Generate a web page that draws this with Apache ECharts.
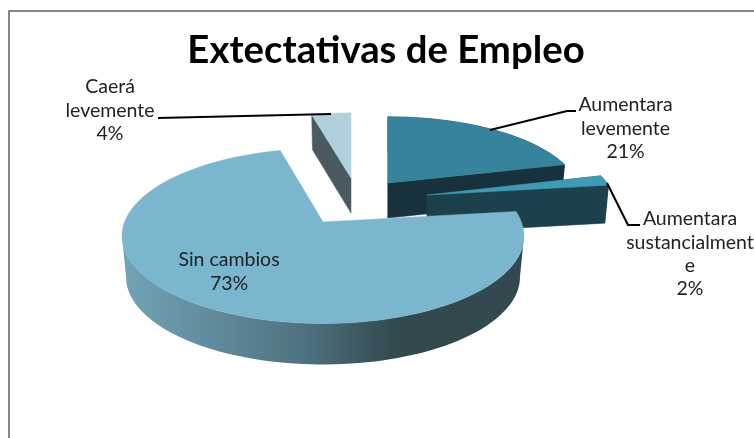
<!DOCTYPE html>
<html><head><meta charset="utf-8">
<style>html,body{margin:0;padding:0;background:#fff}#c{width:754px;height:438px}</style>
<script src="https://cdn.jsdelivr.net/npm/echarts@6/dist/echarts.min.js"></script>
</head><body><div id="c"></div>
<script>
const categories = ['Aumentara levemente', 'Aumentara sustancialmente', 'Sin cambios', 'Caerá levemente'];
const labelLines = [['Aumentara','levemente'], ['Aumentara','sustancialment','e'], ['Sin cambios'], ['Caerá','levemente']];
const shares = [21, 2, 73, 4];
const titleText = 'Extectativas de Empleo';

// layout of each exploded wedge
const apex = [[388,183],[427,195],[323,222],[351,178]];
const scaleX = [0.955,0.94,1,0.92];
const scaleY = [0.9,0.94,1,0.885];
const depth = [35,38,41,35];
const topColor = ['#37829C','#3F9BB5','#7AB7CE','#B1D0DD'];
const wallColor = ['#17323D','#1D414C',null,'#4B5A60'];
const labelPos = [[625.5,105],[690,219],[229,260],[110,87]];
const leaders = [[[490,130],[567,111],[576,111]],[[607,183],[628,225],[640,225]],null,[[331,114],[158,118]]];

const RX = 201, RY = 87.5, K = -0.16, SHRINK = 0.98;
const FONT = 'Lato, sans-serif';

function pt(i, deg, bottom) {
  const a = deg * Math.PI / 180;
  const y0 = -Math.cos(a), den = 1 + K * y0;
  const u = Math.sin(a) * Math.sqrt(1 - K * K) / den;
  const v = (y0 + K) / den - K;
  const f = bottom ? SHRINK : 1;
  return [apex[i][0] + scaleX[i] * RX * u * f, apex[i][1] + scaleY[i] * RY * v + (bottom ? depth[i] : 0)];
}
function arc(i, a0, a1, bottom) {
  const out = [], n = Math.max(2, Math.ceil(Math.abs(a1 - a0) / 2));
  for (let j = 0; j <= n; j++) out.push(pt(i, a0 + (a1 - a0) * j / n, bottom));
  return out;
}
const total = shares.reduce((a, b) => a + b, 0);

function renderItem(params) {
  const i = params.dataIndex;
  let start = 0;
  for (let j = 0; j < i; j++) start += shares[j];
  const a0 = start / total * 360, a1 = (start + shares[i]) / total * 360;
  const kids = [];
  const apexPt = apex[i], apexLow = [apexPt[0], apexPt[1] + depth[i]];
  const poly = (points, fill) => ({type:'polygon', shape:{points}, style:{fill, stroke:fill, lineWidth:0.5}, silent:true});

  if (i === 2) {
    // rim of the large wedge between the points where the outline turns
    const turn = Math.acos(K) * 180 / Math.PI;
    const from = Math.max(a0, turn), to = 360 - turn;
    const w = poly(arc(i, from, to, false).concat(arc(i, from, to, true).reverse()), {
      type:'linear', global:true, x:122, y:0, x2:525, y2:0, colorStops:[
        {offset:0, color:'#72A4B7'}, {offset:0.45, color:'#4F7280'}, {offset:0.68, color:'#33494F'}, {offset:1, color:'#33494F'}]});
    w.style.stroke = null;
    kids.push(w);
  } else {
    const p = pt(i, a0, false), q = pt(i, a0, true);
    kids.push(poly([apexPt, p, q, apexLow], wallColor[i]));
    if (i !== 3) {
      const p1 = pt(i, a1, false), q1 = pt(i, a1, true);
      kids.push(poly([apexPt, p1, q1, apexLow], wallColor[i]));
      kids.push(poly(arc(i, a0, a1, false).concat(arc(i, a0, a1, true).reverse()), wallColor[i]));
    }
  }
  kids.push(poly([apexPt].concat(arc(i, a0, a1, false)), topColor[i]));
  return {type:'group', children:kids};
}

function renderLabel(params) {
  const i = params.dataIndex;
  const kids = [];
  if (leaders[i]) kids.push({type:'polyline', shape:{points:leaders[i]}, style:{fill:null, stroke:'#000', lineWidth:2}, silent:true});
  const lines = labelLines[i].concat([shares[i] + '%']);
  lines.forEach((t, j) => kids.push({type:'text', style:{
    text:t, x:labelPos[i][0], y:labelPos[i][1] + j * 23.3, align:'center', verticalAlign:'middle',
    font:'19.5px ' + FONT, fill:'#222'}}));
  return {type:'group', children:kids};
}

const chart = echarts.init(document.getElementById('c'), null, {renderer:'canvas'});
chart.setOption({
  animation:false,
  backgroundColor:'#fff',
  title:{text:titleText, left:381, top:27, textAlign:'center', textStyle:{fontFamily:FONT, fontWeight:'bold', fontSize:38.3, color:'#000'}},
  graphic:[{type:'rect', shape:{x:9,y:11,width:800,height:480}, style:{fill:'none', stroke:'#868686', lineWidth:2}, silent:true}],
  series:[
    {type:'custom', coordinateSystem:'none', renderItem, data:shares.map((v,i)=>({name:categories[i], value:v})), silent:true},
    {type:'custom', coordinateSystem:'none', renderItem:renderLabel, data:shares.map((v,i)=>({name:categories[i], value:v})), silent:true, z:5}
  ]
});
</script></body></html>
